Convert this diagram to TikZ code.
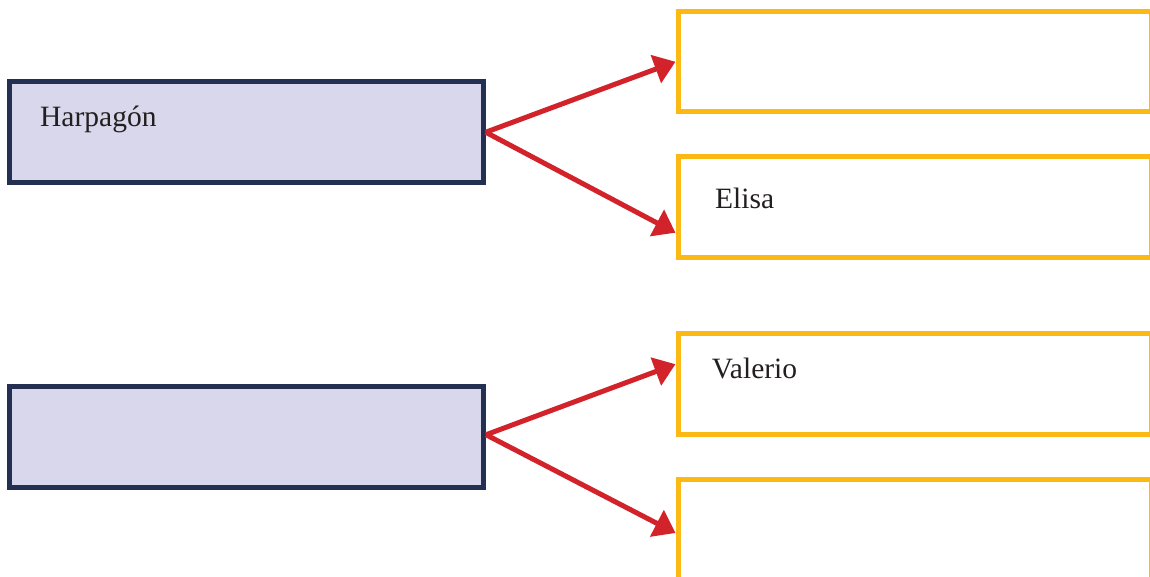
\documentclass[tikz,border=0pt]{standalone}
\usepackage{fontspec}
\setmainfont{Liberation Serif}
\usetikzlibrary{arrows.meta}
\definecolor{navy}{HTML}{233052}
\definecolor{lav}{HTML}{D8D7EB}
\definecolor{gold}{HTML}{FDB913}
\definecolor{ared}{HTML}{D2232A}
\definecolor{ink}{HTML}{231F20}
\tikzset{
  leftbox/.style={draw=navy, fill=lav, line width=5pt, inner sep=0pt, minimum width=474pt, minimum height=100.5pt},
  rightbox/.style={draw=gold, fill=white, line width=5pt, inner sep=0pt, minimum width=473pt, minimum height=100.5pt},
  lbl/.style={anchor=base west, text=ink, inner sep=0pt, font=\fontsize{29.5}{35}\selectfont},
  conn/.style={draw=ared, line width=5pt, -{Triangle[length=21pt,width=29pt]}}
}
\begin{document}
\begin{tikzpicture}[x=1pt,y=-1pt]
\useasboundingbox (0,0) rectangle (1150,577);
\node[leftbox] (h) at (246.25,132.25) {};
\node[leftbox] (g) at (246.5,436.75) {};
\node[rightbox] (a) at (914.5,61.75) {};
\node[rightbox] (b) at (914.5,206.75) {};
\node[rightbox] (c) at (914.5,384.2) {};
\node[rightbox, minimum height=120pt] (d) at (914.5,539) {};
\node[lbl] (th) at (40,126.7) {Harpagón};
\node[lbl] (tb) at (715,208.3) {Elisa};
\node[lbl] (tc) at (711.7,378.3) {Valerio};
\draw[conn] (h.east) -- (a.west);
\draw[conn] (h.east) -- ([yshift=-26pt]b.west);
\draw[conn] ([yshift=2pt]g.east) -- ([yshift=20pt]c.west);
\draw[conn] ([yshift=2pt]g.east) -- ([yshift=6pt]d.west);
\end{tikzpicture}
\end{document}
